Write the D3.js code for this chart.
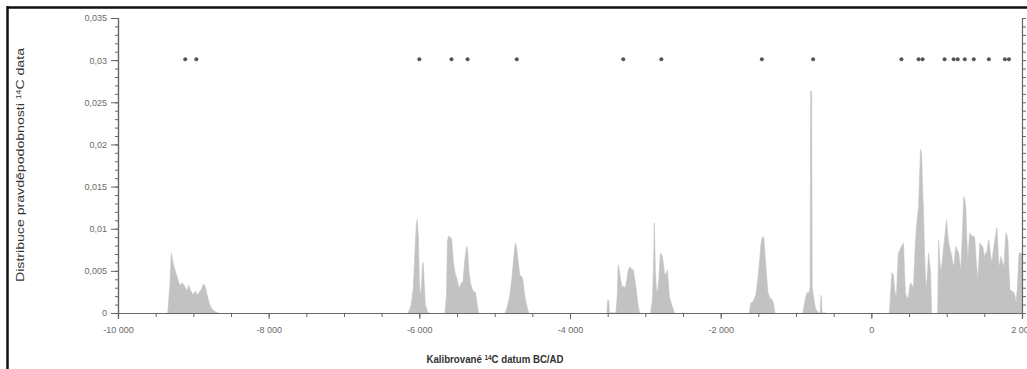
<!DOCTYPE html>
<html>
<head>
<meta charset="utf-8">
<script src="https://cdn.jsdelivr.net/npm/d3@7"></script>
<style>
  html, body { margin: 0; padding: 0; background: #fff; }
  svg { display: block; font-family: "Liberation Sans", Arial, sans-serif; }
</style>
</head>
<body>
<svg id="chart" width="1027" height="369"></svg>
<script>
// calibrated 14C dates (asterisks), years BC/AD
const dates = [-9107, -8960, -6000, -5573, -5360, -4707, -3293, -2787, -1453, -773,
  400, 627, 680, 973, 1093, 1147, 1240, 1360, 1560, 1773, 1827];

// summed probability, [year, p] per cluster
const mesolithic = [[-9340,0],[-9310,0.0035],[-9293,0.0071],[-9275,0.0062],[-9255,0.0055],[-9240,0.005],
  [-9213,0.0042],[-9190,0.0035],[-9165,0.0033],[-9150,0.0036],[-9133,0.0034],[-9107,0.003],[-9080,0.0026],
  [-9065,0.0033],[-9053,0.003],[-9027,0.0025],[-9000,0.0022],[-8973,0.0026],[-8947,0.0021],[-8920,0.0025],
  [-8893,0.0028],[-8867,0.0034],[-8850,0.0033],[-8830,0.0027],[-8813,0.002],[-8787,0.0011],[-8760,0.0006],
  [-8720,0.0002],[-8667,0]];
const early6000 = [[-6150,0],[-6133,0.0003],[-6107,0.001],[-6080,0.003],[-6060,0.007],[-6040,0.0105],
  [-6027,0.0111],[-6013,0.009],[-6000,0.004],[-5987,0.002],[-5973,0.003],[-5960,0.0055],[-5947,0.006],
  [-5933,0.003],[-5920,0.001],[-5893,0.0002],[-5870,0]];
const neolithicA = [[-5660,0],[-5640,0.002],[-5627,0.0085],[-5613,0.0091],[-5587,0.009],[-5570,0.0087],
  [-5547,0.006],[-5520,0.0045],[-5507,0.0043],[-5480,0.0032],[-5467,0.003],[-5440,0.0036],[-5420,0.0037],
  [-5400,0.006],[-5373,0.0079],[-5360,0.0075],[-5340,0.0048],[-5320,0.0035],[-5293,0.0027],[-5253,0.0024],
  [-5230,0.0008],[-5213,0]];
const neolithicB = [[-4860,0],[-4840,0.0005],[-4800,0.002],[-4773,0.004],[-4747,0.0065],[-4733,0.0078],
  [-4720,0.0083],[-4707,0.0076],[-4693,0.0065],[-4667,0.0045],[-4640,0.0043],[-4627,0.004],[-4600,0.002],
  [-4573,0.0008],[-4547,0]];
const eneolithicA = [[-3510,0],[-3500,0.0015],[-3487,0.0015],[-3475,0],[-3390,0],[-3373,0.002],[-3360,0.0057],
  [-3347,0.0052],[-3330,0.004],[-3307,0.003],[-3287,0.0032],[-3267,0.0029],[-3245,0.004],[-3227,0.0051],
  [-3200,0.0055],[-3187,0.0052],[-3160,0.0051],[-3140,0.004],[-3120,0.0027],[-3093,0.0007],[-3075,0]];
const eneolithicB = [[-2930,0],[-2907,0.0015],[-2893,0.005],[-2880,0.0107],[-2867,0.005],[-2853,0.0028],
  [-2840,0.0024],[-2820,0.004],[-2800,0.0071],[-2773,0.0067],[-2747,0.0048],[-2727,0.0045],[-2707,0.0051],
  [-2680,0.0019],[-2640,0.0007],[-2613,0]];
const bronze = [[-1620,0],[-1600,0.0012],[-1573,0.0013],[-1553,0.0017],[-1533,0.0022],[-1507,0.004],
  [-1480,0.0065],[-1467,0.008],[-1453,0.0088],[-1440,0.0091],[-1427,0.0088],[-1413,0.0072],[-1400,0.0055],
  [-1373,0.0025],[-1347,0.0018],[-1320,0.0016],[-1300,0.0012],[-1280,0]];
const hallstatt = [[-910,0],[-893,0.0008],[-873,0.0018],[-853,0.0024],[-827,0.0024],[-813,0.003],
  [-805,0.0263],[-793,0.0263],[-785,0.003],[-760,0.0015],[-740,0.0005],[-700,0],[-680,0],[-667,0.0021],
  [-653,0],[-600,0]];
const migration = [[240,0],[253,0.002],[273,0.0048],[293,0.0045],[313,0.0025],[333,0.0018],[347,0.005],
  [360,0.0071],[380,0.0075],[400,0.0079],[427,0.0083],[440,0.005],[453,0.0024],[473,0.0018],[493,0.0019],
  [507,0.003],[520,0.0036],[540,0.0033],[560,0.003],[573,0.006],[587,0.0087],[607,0.011],[627,0.0126],
  [640,0.016],[653,0.0194],[667,0.019],[680,0.015],[693,0.0119],[707,0.0067],[720,0.004],[733,0.003],
  [747,0.005],[760,0.0071],[773,0.006],[787,0.0048],[795,0.002],[800,0]];
const medieval = [[880,0],[893,0.0087],[907,0.0065],[920,0.0048],[940,0.006],[960,0.0079],[980,0.0095],
  [1000,0.011],[1013,0.0095],[1027,0.0083],[1047,0.0075],[1067,0.0067],[1080,0.006],[1093,0.0055],
  [1107,0.0065],[1120,0.0079],[1140,0.0075],[1160,0.0071],[1173,0.006],[1187,0.0051],[1207,0.009],
  [1227,0.0138],[1240,0.0135],[1253,0.0126],[1267,0.009],[1280,0.0063],[1293,0.008],[1307,0.0095],
  [1327,0.0092],[1347,0.009],[1360,0.0092],[1373,0.0088],[1393,0.006],[1413,0.0039],[1427,0.006],
  [1440,0.0083],[1460,0.008],[1480,0.0079],[1493,0.007],[1507,0.0067],[1520,0.0072],[1533,0.0071],
  [1547,0.008],[1560,0.0087],[1580,0.007],[1600,0.006],[1620,0.0075],[1640,0.0087],[1667,0.0101],
  [1680,0.008],[1693,0.0055],[1707,0.006],[1720,0.0067],[1740,0.006],[1760,0.0055],[1773,0.0075],
  [1787,0.0095],[1800,0.0092],[1813,0.0087],[1827,0.005],[1840,0.0027],[1867,0.0026],[1893,0.0024],
  [1907,0.002],[1920,0.0012],[1940,0.003],[1960,0.0071],[1987,0.0071],[2000,0.0071]];

const clusters = [mesolithic, early6000, neolithicA, neolithicB, eneolithicA, eneolithicB,
  bronze, hallstatt, migration, medieval];

const xTicks = [-10000, -8000, -6000, -4000, -2000, 0, 2000];
const yTicks = [0, 0.005, 0.01, 0.015, 0.02, 0.025, 0.03, 0.035];
const DATE_LEVEL = 0.03;

const svg = d3.select("#chart");
const plot = { left: 118, right: 1022, top: 18, bottom: 313 };

const x = d3.scaleLinear([-10000, 2000], [plot.left, plot.right]);
const y = d3.scaleLinear([0, 0.035], [plot.bottom, plot.top]);

const locale = d3.formatLocale({
  decimal: ",", thousands: "\u00a0", grouping: [3], currency: ["", ""], minus: "-"
});
const fmtX = locale.format(",");
const fmtY = locale.format("~g");

// outer frame (scan border)
svg.append("line").attr("x1", 7).attr("x2", 1027).attr("y1", 7.5).attr("y2", 7.5)
  .attr("stroke", "#111").attr("stroke-width", 2.5);
svg.append("line").attr("x1", 7.5).attr("x2", 7.5).attr("y1", 6).attr("y2", 369)
  .attr("stroke", "#111").attr("stroke-width", 2.5);

// density area
const area = d3.area()
  .x((d) => x(d[0]))
  .y0(y(0))
  .y1((d) => y(d[1]));

svg.append("g")
  .selectAll("path")
  .data(clusters)
  .join("path")
  .attr("d", area)
  .attr("fill", "#c2c2c2")
  .attr("stroke", "#c2c2c2")
  .attr("stroke-width", 0.6);

// dates
svg.append("g")
  .selectAll("circle")
  .data(dates)
  .join("circle")
  .attr("cx", (d) => x(d))
  .attr("cy", y(DATE_LEVEL) - 1)
  .attr("r", 2)
  .attr("fill", "#555");

function styleAxis(g) {
  g.selectAll(".domain").attr("stroke", "#666").attr("stroke-width", 1.2);
  g.selectAll(".tick line").attr("stroke", "#666");
  g.selectAll("text").attr("fill", "#6a6a6a").attr("font-size", 9);
}

// y axes
svg.append("g")
  .attr("transform", `translate(${plot.left},0)`)
  .call(d3.axisLeft(y).tickValues(d3.range(0, 0.0351, 0.001)).tickSize(3).tickFormat(""))
  .call(styleAxis);
svg.append("g")
  .attr("transform", `translate(${plot.left},0)`)
  .call(d3.axisLeft(y).tickValues(yTicks).tickSize(7).tickFormat(fmtY).tickPadding(4))
  .call(styleAxis);
svg.append("g")
  .attr("transform", `translate(${plot.right},0)`)
  .call(d3.axisRight(y).tickValues(d3.range(0, 0.0351, 0.001)).tickSize(4).tickFormat(""))
  .call(styleAxis);

// x axis
svg.append("g")
  .attr("transform", `translate(0,${plot.bottom})`)
  .call(d3.axisBottom(x).tickValues(d3.range(-10000, 2001, 500)).tickSize(4).tickFormat(""))
  .call(styleAxis);
svg.append("g")
  .attr("transform", `translate(0,${plot.bottom})`)
  .call(d3.axisBottom(x).tickValues(xTicks).tickSize(6).tickFormat(fmtX).tickPadding(8))
  .call(styleAxis);

// titles
svg.append("text")
  .attr("transform", "translate(24,165) rotate(-90)")
  .attr("text-anchor", "middle")
  .attr("font-size", 11.5)
  .attr("fill", "#333")
  .attr("textLength", 234)
  .attr("lengthAdjust", "spacingAndGlyphs")
  .html('Distribuce pravděpodobnosti <tspan baseline-shift="super" font-size="7">14</tspan>C data');

svg.append("text")
  .attr("x", 495)
  .attr("y", 363)
  .attr("text-anchor", "middle")
  .attr("font-size", 10.5)
  .attr("font-weight", "bold")
  .attr("fill", "#333")
  .attr("textLength", 137)
  .attr("lengthAdjust", "spacingAndGlyphs")
  .html('Kalibrované <tspan baseline-shift="super" font-size="7">14</tspan>C datum BC/AD');
</script>
</body>
</html>
